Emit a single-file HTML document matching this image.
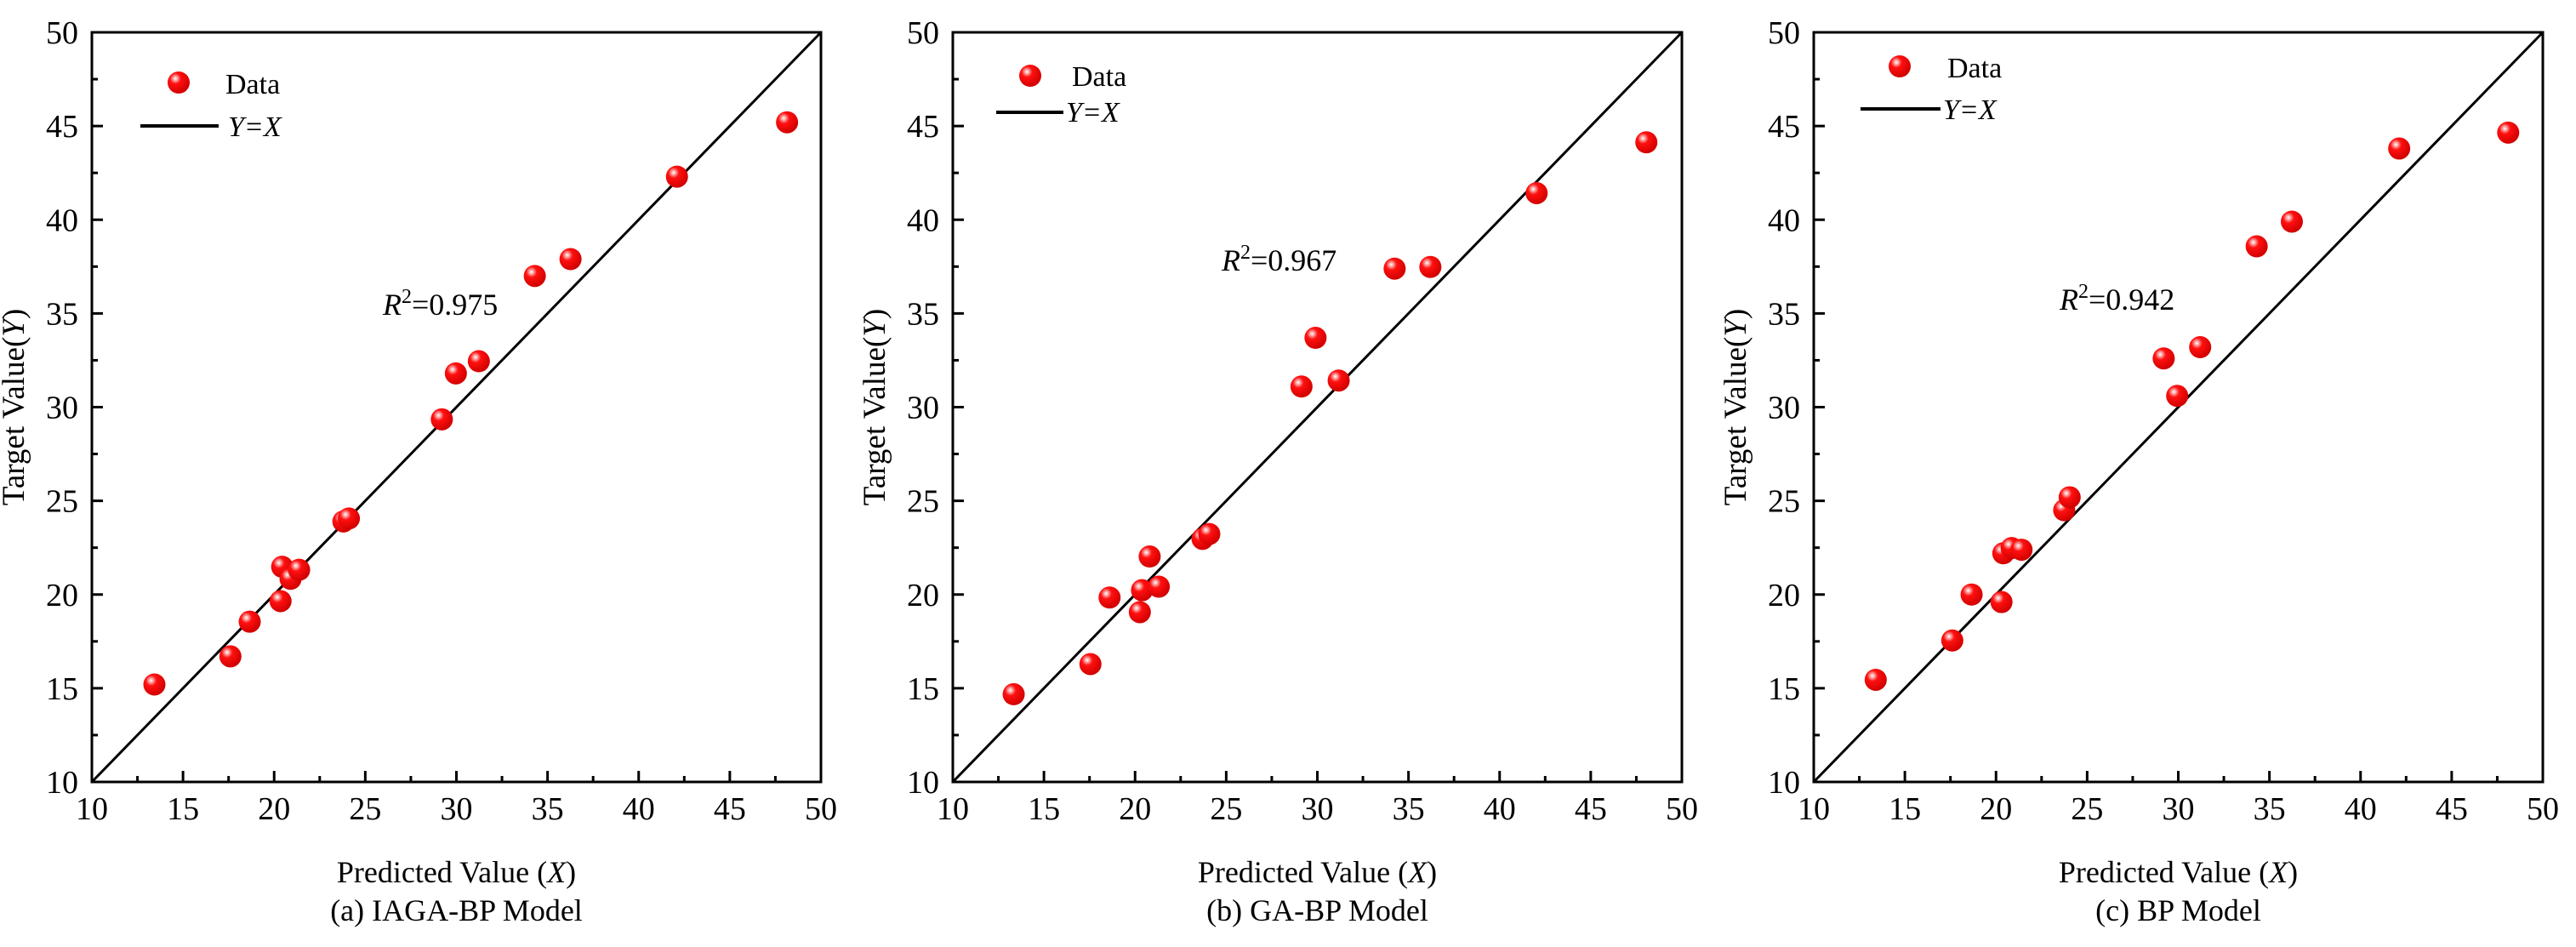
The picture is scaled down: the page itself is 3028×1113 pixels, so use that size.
<!DOCTYPE html>
<html><head><meta charset="utf-8">
<style>
html,body{margin:0;padding:0;background:#fff;}
svg{display:block;font-family:"Liberation Serif",serif;}
</style></head>
<body>
<svg id="chart" width="3028" height="1113" viewBox="0 0 3028 1113" xmlns="http://www.w3.org/2000/svg">
<defs>
<radialGradient id="ball" cx="0.35" cy="0.32" r="0.7">
<stop offset="0" stop-color="#ffffff"/>
<stop offset="0.12" stop-color="#ffb0b0"/>
<stop offset="0.35" stop-color="#ff1010"/>
<stop offset="1" stop-color="#d00000"/>
</radialGradient>
</defs>
</svg>
<script>
const ticks = [10,15,20,25,30,35,40,45,50];
const minorTicks = [12.5,17.5,22.5,27.5,32.5,37.5,42.5,47.5];
const captions = ["(a) IAGA-BP Model","(b) GA-BP Model","(c) BP Model"];
const r2Labels = ["0.975","0.967","0.942"];
const predA = [13.43,17.6,18.66,20.35,20.44,20.9,21.37,23.8,24.1,29.2,29.97,31.23,34.3,36.26,42.1,48.14];
const targetA = [15.2,16.7,18.55,19.65,21.48,20.84,21.32,23.9,24.06,29.35,31.8,32.45,37.0,37.9,42.3,45.2];
const predB = [13.34,17.55,18.6,20.26,20.38,20.8,21.3,23.7,24.07,29.13,29.9,31.17,34.24,36.2,42.03,48.05];
const targetB = [14.68,16.29,19.84,19.06,20.23,22.03,20.42,22.97,23.23,31.1,33.7,31.42,37.39,37.48,41.42,44.13];
const predC = [13.4,17.6,18.66,20.3,20.4,20.86,21.4,23.74,24.04,29.2,29.94,31.2,34.3,36.23,42.12,48.1];
const targetC = [15.45,17.55,20.0,19.6,22.2,22.48,22.39,24.5,25.19,32.6,30.6,33.2,38.58,39.9,43.8,44.65];

const svg = document.getElementById('chart');
const NS = 'http://www.w3.org/2000/svg';
function mk(tag, attrs, parent, text){
  const e = document.createElementNS(NS, tag);
  for (const k in attrs) e.setAttribute(k, attrs[k]);
  if (text !== undefined) e.textContent = text;
  parent.appendChild(e);
  return e;
}
const panels = [
  {left:108, xs:predA, ys:targetA, leg:{mx:210,my:97,tx:265,ty:110,l1:165,l2:257,ly:148,yx:268,yy:160}, r2:{x:450,y:370}},
  {left:1120, xs:predB, ys:targetB, leg:{mx:1211,my:89,tx:1260,ty:101,l1:1171,l2:1250,ly:132,yx:1253,yy:143}, r2:{x:1436,y:318}},
  {left:2132, xs:predC, ys:targetC, leg:{mx:2233,my:78,tx:2289,ty:91,l1:2187,l2:2281,ly:128,yx:2284,yy:140}, r2:{x:2421,y:364}}
];
const TOP = 38, BOT = 919, W = 857;
panels.forEach((p, i) => {
  const g = mk('g', {}, svg);
  
  
  const xs = v => p.left + (v - 10) / 40 * W;
  const ys = v => BOT - (v - 10) / 40 * (BOT - TOP);
  const fr = mk('rect', {x:p.left, y:TOP, width:W, height:BOT-TOP, fill:'none', stroke:'#000', 'stroke-width':3}, g);
  
  
  ticks.forEach(t => {
    mk('line', {x1:xs(t), x2:xs(t), y1:BOT, y2:BOT-13, stroke:'#000','stroke-width':3}, g);
    mk('line', {x1:p.left, x2:p.left+13, y1:ys(t), y2:ys(t), stroke:'#000','stroke-width':3}, g);
    const xl = mk('text', {x:xs(t), y:963, 'font-size':38, 'text-anchor':'middle'}, g, String(t));
    
    
    const yl = mk('text', {x:p.left-16, y:ys(t)+13, 'font-size':38, 'text-anchor':'end'}, g, String(t));
    
    
  });
  minorTicks.forEach(t => {
    mk('line', {x1:xs(t), x2:xs(t), y1:BOT, y2:BOT-7, stroke:'#000','stroke-width':3}, g);
    mk('line', {x1:p.left, x2:p.left+7, y1:ys(t), y2:ys(t), stroke:'#000','stroke-width':3}, g);
  });
  const dl = mk('line', {x1:xs(10), y1:ys(10), x2:xs(50), y2:ys(50), stroke:'#000','stroke-width':3}, g);
  
  
  p.xs.forEach((v, k) => {
    const c = mk('circle', {cx:xs(v), cy:ys(p.ys[k]), r:13, fill:'url(#ball)'}, g);
    
    
  });
  const L = p.leg;
  const lm = mk('circle', {cx:L.mx, cy:L.my, r:13, fill:'url(#ball)'}, g);
  
  
  const lt = mk('text', {x:L.tx, y:L.ty, 'font-size':34}, g, 'Data');
  
  
  const ll = mk('line', {x1:L.l1, x2:L.l2, y1:L.ly, y2:L.ly, stroke:'#000','stroke-width':4}, g);
  
  
  const ly = mk('text', {x:L.yx, y:L.yy, 'font-size':34, 'font-style':'italic'}, g, 'Y=X');
  
  
  const r = mk('text', {x:p.r2.x, y:p.r2.y, 'font-size':36}, g);
  
  
  mk('tspan', {'font-style':'italic'}, r, 'R');
  mk('tspan', {dy:-14, 'font-size':24}, r, '2');
  mk('tspan', {dy:14}, r, '=' + r2Labels[i]);
  const cx = p.left + W/2;
  const xt = mk('text', {x:cx, y:1037, 'font-size':36, 'text-anchor':'middle'}, g);
  
  
  mk('tspan', {}, xt, 'Predicted Value (');
  mk('tspan', {'font-style':'italic'}, xt, 'X');
  mk('tspan', {}, xt, ')');
  const cap = mk('text', {x:cx, y:1082, 'font-size':36, 'text-anchor':'middle'}, g, captions[i]);
  
  
  const tx = p.left - 80, ty = (TOP+BOT)/2;
  const yt = mk('text', {x:tx, y:ty, 'font-size':37, 'text-anchor':'middle', transform:`rotate(-90 ${tx} ${ty})`}, g);
  
  
  mk('tspan', {}, yt, 'Target Value(');
  mk('tspan', {'font-style':'italic'}, yt, 'Y');
  mk('tspan', {}, yt, ')');
});
</script>
</body></html>
